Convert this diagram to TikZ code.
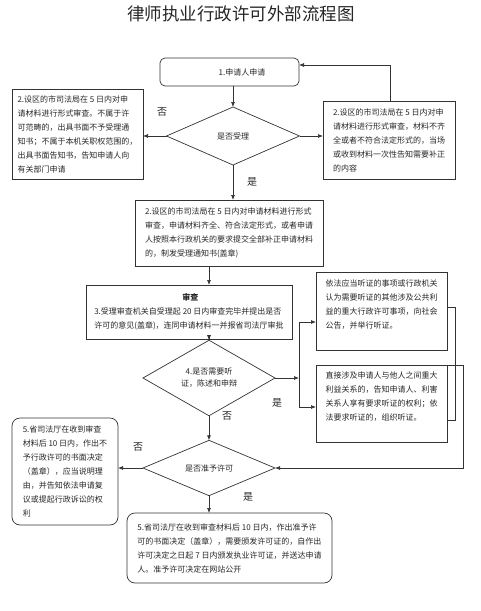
\documentclass[tikz,border=0pt]{standalone}
\usepackage{fontspec}
\setmainfont{Noto Sans CJK SC}
\usetikzlibrary{shapes.geometric,arrows.meta,calc}
\begin{document}
\begin{tikzpicture}[x=1pt,y=-1pt,
  every node/.style={font=\fontsize{8}{14}\selectfont, text=black!85},
  box/.style={draw=black!80, line width=0.7pt, rectangle, inner sep=0pt, outer sep=0pt, align=left},
  rbox/.style={box, rounded corners=8pt},
  dec/.style={draw=black!80, line width=0.7pt, diamond, inner sep=0pt, outer sep=0pt, align=center},
  arr/.style={draw=black!80, line width=0.7pt, -{Latex[length=5pt,width=4pt]}},
  ln/.style={draw=black!80, line width=0.7pt},
  lab/.style={font=\fontsize{10}{12}\selectfont}
]
\useasboundingbox (0,0) rectangle (481,611);
\node (title) at (241,14) {\fontsize{17.5}{20}\selectfont 律师执业行政许可外部流程图};

\node[rbox, rounded corners=5pt, minimum width=139pt, minimum height=28pt] (b1) at (229.5,72) {\hspace*{25pt}1.申请人申请};
\node[dec, minimum width=133pt, minimum height=58pt] (d1) at (233,136) {是否受理};
\node[box, minimum width=131pt, minimum height=90pt] (lb2) at (77.5,134) {2.设区的市司法局在 5 日内对申\\请材料进行形式审查。不属于许\\可范畴的，出具书面不予受理通\\知书；不属于本机关职权范围的，\\出具书面告知书，告知申请人向\\有关部门申请};
\node[box, minimum width=132pt, minimum height=78pt] (rb2) at (389,140) {2.设区的市司法局在 5 日内对申\\请材料进行形式审查，材料不齐\\全或者不符合法定形式的，当场\\或收到材料一次性告知需要补正\\的内容};
\node[box, minimum width=188pt, minimum height=66pt] (mb2) at (229,233) {2.设区的市司法局在 5 日内对申请材料进行形式\\审查，申请材料齐全、符合法定形式，或者申请\\人按照本行政机关的要求提交全部补正申请材料\\的，制发受理通知书(盖章)};
\node[box, minimum width=206pt, minimum height=54pt] (b3) at (189,312) {\makebox[0pt][l]{\hspace*{88pt}\bfseries 审查}\\3.受理审查机关自受理起 20 日内审查完毕并提出是否\\许可的意见(盖章)，连同申请材料一并报省司法厅审批};
\node[dec, minimum width=132pt, minimum height=57pt, font=\fontsize{8}{12}\selectfont] (d4) at (209,378) {4.是否需要听\\证，陈述和申辩};
\node[box, minimum width=131pt, minimum height=78pt] (boxA) at (381.5,311) {依法应当听证的事项或行政机关\\认为需要听证的其他涉及公共利\\益的重大行政许可事项，向社会\\公告，并举行听证。\\~};
\node[box, minimum width=131pt, minimum height=77pt] (boxB) at (381.5,403.5) {直接涉及申请人与他人之间重大\\利益关系的，告知申请人、利害\\关系人享有要求听证的权利；依\\法要求听证的，组织听证。\\~};
\node[dec, minimum width=132pt, minimum height=52pt] (d5) at (209,468) {是否准予许可};
\node[rbox, minimum width=106pt, minimum height=107pt] (lb5) at (65,471.5) {5.省司法厅在收到审查\\材料后 10 日内，作出不\\予行政许可的书面决定\\（盖章），应当说明理\\由，并告知依法申请复\\议或提起行政诉讼的权\\利};
\node[rbox, minimum width=205pt, minimum height=70pt] (bb5) at (229.5,548) {5.省司法厅在收到审查材料后 10 日内，作出准予许\\可的书面决定（盖章），需要颁发许可证的，自作出\\许可决定之日起 7 日内颁发执业许可证，并送达申请\\人。准予许可决定在网站公开};

\coordinate (r1) at (390,65);
\coordinate (bus) at (299,378);
\coordinate (busA) at (299,322);
\coordinate (busB) at (299,407);
\coordinate (k1) at (455,307);
\coordinate (k2) at (455,420);
\coordinate (m1) at (463,365);
\coordinate (m2) at (463,468);

\draw[arr] (b1.south -| d1.north) -- (d1.north);
\draw[arr] (d1.west) -- (d1.west -| lb2.east);
\draw[arr] (d1.east) -- (d1.east -| rb2.west);
\draw[arr] (rb2.north -| r1) -- (r1) -- (r1 -| b1.east);
\draw[arr] (d1.south) -- (d1.south |- mb2.north);
\draw[arr] (mb2.south -| d4.north) -- (b3.north -| d4.north);
\draw[arr] (b3.south -| d4.north) -- (d4.north);
\draw[arr] (d4.east) -- (bus);
\draw[ln] (busA) -- (busB);
\draw[arr] (busA) -- (busA -| boxA.west);
\draw[arr] (busB) -- (busB -| boxB.west);
\draw[ln] (boxA.east |- k1) -- (k1) -- (k2) -- (k2 -| boxB.east);
\draw[arr] (boxB.north east) -- (m1) -- (m2) -- (d5.east);
\draw[arr] (d4.south) -- (d5.north);
\draw[arr] (d5.west) -- (d5.west -| lb5.east);
\draw[arr] (d5.south) -- (d5.south |- bb5.north);

\node[lab] (l1) at (162,112) {否};
\node[lab] (l2) at (252,182) {是};
\node[lab] (l3) at (277,403) {是};
\node[lab] (l4) at (227,416) {否};
\node[lab] (l5) at (138,447) {否};
\node[lab] (l6) at (248,497) {是};
\end{tikzpicture}
\end{document}
